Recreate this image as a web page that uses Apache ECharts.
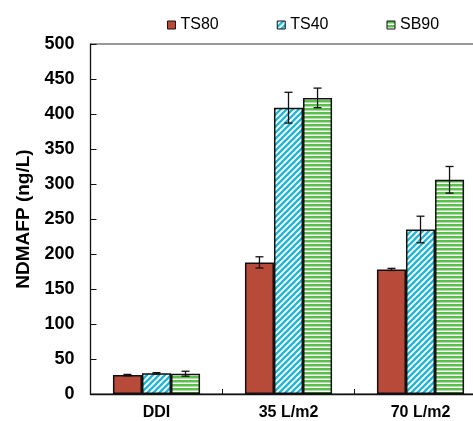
<!DOCTYPE html>
<html>
<head>
<meta charset="utf-8">
<script src="https://cdn.jsdelivr.net/npm/echarts@6/dist/echarts.min.js"></script>
<style>
  html, body { margin: 0; padding: 0; background: #fff; overflow: hidden; }
  #chart { width: 490px; height: 421px; }
</style>
</head>
<body>
<div id="chart"></div>
<script>
const categories = ['DDI', '35 L/m2', '70 L/m2'];
const ts80 = [27, 188, 178];
const ts80Err = [1, 8, 1.5];
const ts40 = [29.5, 409, 235];
const ts40Err = [1, 22, 19];
const sb90 = [29, 423, 306];
const sb90Err = [3.5, 14, 19];
const yTicks = [0, 50, 100, 150, 200, 250, 300, 350, 400, 450, 500];

const barFrac = 0.22;

// striped fills
function diagonalFill(color) {
  const n = 6;
  const c = document.createElement('canvas');
  c.width = n; c.height = n;
  const g = c.getContext('2d');
  g.fillStyle = '#fff';
  g.fillRect(0, 0, n, n);
  g.strokeStyle = color;
  g.lineWidth = 2.3;
  [0, n, 2 * n].forEach((s) => {
    g.beginPath();
    g.moveTo(s - n - 1, n + 1);
    g.lineTo(s + 1, -1);
    g.stroke();
  });
  return { image: c, repeat: 'repeat' };
}
function horizontalFill(color) {
  const c = document.createElement('canvas');
  c.width = 4; c.height = 4;
  const g = c.getContext('2d');
  g.fillStyle = '#fff';
  g.fillRect(0, 0, 4, 4);
  g.fillStyle = color;
  g.fillRect(0, 0, 4, 2.5);
  return { image: c, repeat: 'repeat' };
}

function barSeries(name, vals, fill) {
  return {
    name: name,
    type: 'bar',
    data: vals,
    barWidth: barFrac * 100 + '%',
    barGap: '0%',
    itemStyle: { color: fill, borderColor: '#111', borderWidth: 1.5 }
  };
}

function errorSeries(vals, errs, idx) {
  return {
    type: 'custom',
    silent: true,
    z: 10,
    encode: { x: 0, y: [1, 2] },
    data: vals.map((v, i) => [i, v - errs[i], v + errs[i]]),
    renderItem(params, api) {
      const band = api.size([1, 0])[0];
      const off = band * barFrac * (idx - 1);
      const lo = api.coord([api.value(0), api.value(1)]);
      const hi = api.coord([api.value(0), api.value(2)]);
      const x = lo[0] + off;
      const cap = 4;
      const st = { stroke: '#111', lineWidth: 1.3 };
      return {
        type: 'group',
        children: [
          { type: 'line', shape: { x1: x, y1: hi[1], x2: x, y2: lo[1] }, style: st },
          { type: 'line', shape: { x1: x - cap, y1: hi[1], x2: x + cap, y2: hi[1] }, style: st },
          { type: 'line', shape: { x1: x - cap, y1: lo[1], x2: x + cap, y2: lo[1] }, style: st }
        ]
      };
    }
  };
}

const red = '#b84a3a';
const cyanFill = diagonalFill('#1fb6d6');
const greenFill = horizontalFill('#5abf4b');

const chart = echarts.init(document.getElementById('chart'));
chart.setOption({
  animation: false,
  textStyle: { fontFamily: 'Liberation Sans, Arial, sans-serif' },
  legend: {
    data: ['TS80', 'TS40', 'SB90'],
    left: 162,
    top: 12,
    icon: 'rect',
    itemWidth: 8,
    itemHeight: 8,
    itemGap: 58,
    itemStyle: { borderColor: '#111', borderWidth: 1 },
    textStyle: { fontSize: 16, color: '#000', lineHeight: 16 }
  },
  grid: {
    left: 90.5,
    top: 44,
    bottom: 26,
    width: 396,
    show: true,
    borderColor: '#333',
    borderWidth: 1
  },
  xAxis: {
    type: 'category',
    data: categories,
    axisLine: { lineStyle: { color: '#111', width: 1.3 } },
    axisTick: { show: true, inside: true, length: 5, lineStyle: { color: '#111' } },
    axisLabel: { fontSize: 16, fontWeight: 'bold', color: '#000', margin: 11 }
  },
  yAxis: {
    type: 'value',
    min: yTicks[0],
    max: yTicks[yTicks.length - 1],
    interval: yTicks[1] - yTicks[0],
    name: 'NDMAFP (ng/L)',
    nameLocation: 'middle',
    nameRotate: 90,
    nameGap: 54,
    nameTextStyle: { fontSize: 19, fontWeight: 'bold', color: '#000' },
    splitLine: { show: false },
    axisLine: { show: true, lineStyle: { color: '#111', width: 1.3 } },
    axisTick: { show: true, inside: true, length: 6, lineStyle: { color: '#111' } },
    axisLabel: { fontSize: 18, fontWeight: 'bold', color: '#000', margin: 16 }
  },
  series: [
    barSeries('TS80', ts80, red),
    barSeries('TS40', ts40, cyanFill),
    barSeries('SB90', sb90, greenFill),
    errorSeries(ts80, ts80Err, 0),
    errorSeries(ts40, ts40Err, 1),
    errorSeries(sb90, sb90Err, 2)
  ]
});
</script>
</body>
</html>
